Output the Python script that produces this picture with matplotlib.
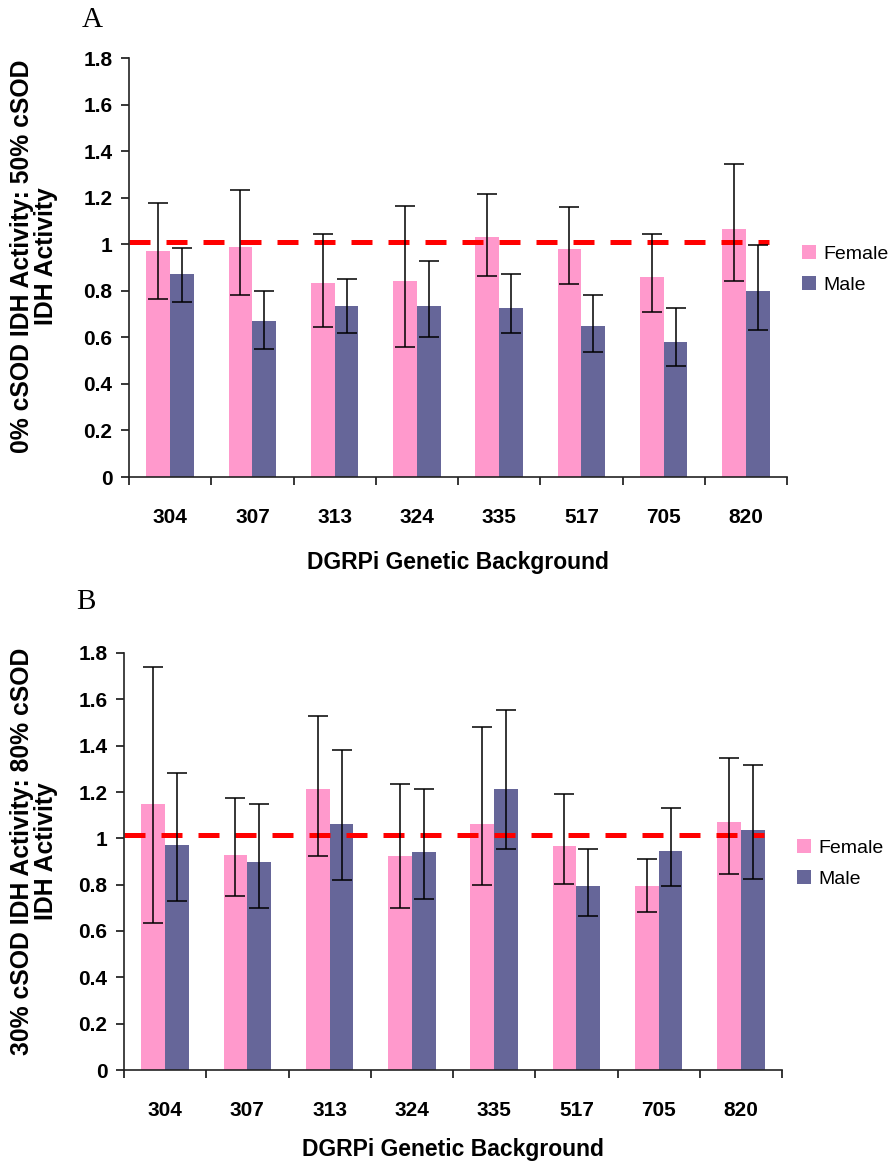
import numpy as np
import matplotlib
matplotlib.use('Agg')
import matplotlib.pyplot as plt
from matplotlib.patches import Patch

plt.rcParams['font.family'] = ['Liberation Sans', 'DejaVu Sans']

# 공통 범주 / 범례
lines = ['304', '307', '313', '324', '335', '517', '705', '820']
series_names = ['Female', 'Male']

# 패널 A: 0% cSOD / 50% cSOD
a_female = [0.97, 0.99, 0.835, 0.84, 1.03, 0.98, 0.86, 1.065]
a_female_lo = [0.765, 0.78, 0.645, 0.56, 0.865, 0.83, 0.71, 0.84]
a_female_hi = [1.175, 1.235, 1.045, 1.165, 1.215, 1.16, 1.045, 1.345]
a_male = [0.87, 0.67, 0.735, 0.735, 0.725, 0.65, 0.58, 0.80]
a_male_lo = [0.75, 0.55, 0.62, 0.60, 0.62, 0.535, 0.475, 0.63]
a_male_hi = [0.985, 0.80, 0.85, 0.93, 0.87, 0.78, 0.725, 0.995]
a_ref = 1.01

# 패널 B: 30% cSOD / 80% cSOD
b_female = [1.15, 0.93, 1.215, 0.925, 1.06, 0.965, 0.795, 1.07]
b_female_lo = [0.635, 0.75, 0.925, 0.70, 0.80, 0.805, 0.68, 0.845]
b_female_hi = [1.74, 1.175, 1.53, 1.235, 1.48, 1.19, 0.91, 1.345]
b_male = [0.97, 0.90, 1.06, 0.94, 1.215, 0.795, 0.945, 1.035]
b_male_lo = [0.73, 0.70, 0.82, 0.74, 0.955, 0.665, 0.795, 0.825]
b_male_hi = [1.28, 1.15, 1.38, 1.215, 1.555, 0.955, 1.13, 1.315]
b_ref = 1.015

PINK = '#FF99CC'
PURPLE = '#666699'
BAR_W = 0.29


def draw_panel(ax, female, f_lo, f_hi, male, m_lo, m_hi, ref, ylabel, label_x, label_y, xpad):
    x = np.arange(len(lines))
    f_err = [np.array(female) - np.array(f_lo), np.array(f_hi) - np.array(female)]
    m_err = [np.array(male) - np.array(m_lo), np.array(m_hi) - np.array(male)]

    ax.bar(x - BAR_W / 2, female, BAR_W, color=PINK, zorder=1)
    ax.bar(x + BAR_W / 2, male, BAR_W, color=PURPLE, zorder=1)
    ax.errorbar(x - BAR_W / 2, female, yerr=f_err, fmt='none', ecolor='black',
                elinewidth=1.1, capsize=7, capthick=1.1, zorder=3)
    ax.errorbar(x + BAR_W / 2, male, yerr=m_err, fmt='none', ecolor='black',
                elinewidth=1.1, capsize=7, capthick=1.1, zorder=3)

    # 기준선 (빨간 점선)
    ax.hlines(ref, -0.5, 7.28, colors='#FF0000', linewidth=3.6,
              linestyles=(0, (4.2, 3.2)), zorder=2)

    ax.set_xlim(-0.5, 7.5)
    ax.set_ylim(0, 1.8)
    ax.set_yticks(np.arange(0, 1.81, 0.2))
    ax.set_yticklabels(['0', '0.2', '0.4', '0.6', '0.8', '1', '1.2', '1.4', '1.6', '1.8'],
                       fontsize=15, fontweight='bold')
    ax.set_xticks(x)
    ax.set_xticklabels(lines, fontsize=15, fontweight='bold')
    ax.set_xticks(np.arange(-0.5, 8, 1), minor=True)
    ax.tick_params(axis='x', which='major', length=0, pad=22)
    ax.tick_params(axis='x', which='minor', length=6, width=1.1, direction='out')
    ax.tick_params(axis='y', length=6, width=1.1, direction='out', pad=6)

    for side in ['top', 'right']:
        ax.spines[side].set_visible(False)
    for side in ['left', 'bottom']:
        ax.spines[side].set_linewidth(1.2)
        ax.spines[side].set_color('#222222')

    ax.set_xlabel('DGRPi Genetic Background', fontsize=16.5, fontweight='bold', labelpad=xpad)
    ax.set_ylabel(ylabel, fontsize=17.8, fontweight='bold', linespacing=1.0, va='center')
    ax.yaxis.set_label_coords(label_x, label_y)

    # 범례: 축 오른쪽 바깥
    handles = [Patch(facecolor=PINK), Patch(facecolor=PURPLE)]
    ax.legend(handles, series_names, loc='center left', bbox_to_anchor=(1.023, 0.495),
              frameon=False, fontsize=14,
              handlelength=0.72, handleheight=0.72, handletextpad=0.36,
              labelspacing=0.7, borderpad=0, borderaxespad=0)


fig = plt.figure(figsize=(8.9, 11.66), dpi=100)
ax_a = fig.add_axes([129 / 890, 1 - 477 / 1166, 658 / 890, 419 / 1166])
ax_b = fig.add_axes([124 / 890, 1 - 1070 / 1166, 658 / 890, 417 / 1166])

draw_panel(ax_a, a_female, a_female_lo, a_female_hi, a_male, a_male_lo, a_male_hi, a_ref,
           '0% cSOD IDH Activity: 50% cSOD\nIDH Activity', -0.145, 0.527, 17.5)
draw_panel(ax_b, b_female, b_female_lo, b_female_hi, b_male, b_male_lo, b_male_hi, b_ref,
           '30% cSOD IDH Activity: 80% cSOD\nIDH Activity', -0.1375, 0.525, 13.5)

fig.text(92 / 890, 1 - 20 / 1166, 'A', fontsize=21, family='Liberation Serif',
         ha='center', va='center')
fig.text(86 / 890, 1 - 602 / 1166, 'B', fontsize=21, family='Liberation Serif',
         ha='center', va='center')

fig.savefig('out.png', dpi=100)
